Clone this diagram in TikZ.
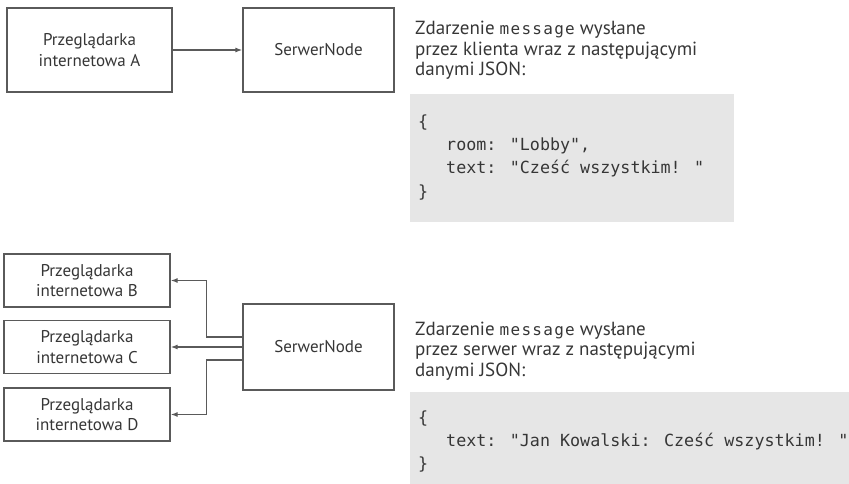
\documentclass[tikz,border=0pt]{standalone}
\usepackage{fontspec}
\setmainfont{PT Sans}
\newfontfamily\codefont{DejaVu Sans Mono}
\newfontfamily\msgfont[LetterSpace=8]{DejaVu Sans Mono}
\usetikzlibrary{arrows.meta}
\definecolor{linegray}{HTML}{5A5A5A}
\definecolor{txtgray}{HTML}{363636}
\definecolor{codebg}{HTML}{E6E6E6}
\tikzset{
  box/.style={draw=linegray, line width=1.3pt, fill=white, inner sep=0pt, align=center,
    font=\fontsize{17}{20.5}\selectfont, text=txtgray},
  conn/.style={draw=linegray, line width=1.2pt, -{Latex[length=7pt,width=5pt]}},
  desc/.style={anchor=base west, inner sep=0pt, font=\fontsize{19}{21}\selectfont, text=txtgray},
  code/.style={anchor=base west, inner sep=0pt, font=\codefont\fontsize{16.7}{23}\selectfont, text=txtgray},
  codebox/.style={fill=codebg, draw=none}
}
\newcommand{\msgword}{{\msgfont\fontsize{16}{20}\selectfont message}}
\begin{document}
\begin{tikzpicture}[x=1pt,y=-1pt]
\useasboundingbox (0,0) rectangle (849,484);
% top row
\node[box, minimum width=165pt, minimum height=84pt] (A) at (89.5,50) {Przeglądarka\\internetowa A};
\node[box, minimum width=151pt, minimum height=84pt] (S1) at (318.5,50) {SerwerNode};
\draw[conn] (A.east) -- (S1.west);
\node[desc] (t1a) at (415,35) {Zdarzenie \msgword{} wysłane};
\node[desc] (t1b) at (415,55.5) {przez klienta wraz z następującymi};
\node[desc] (t1c) at (415,76) {danymi JSON:};
\fill[codebox] (410,94) rectangle (734,222);
\node[code] (c1a) at (418,128) {\{};
\node[code] (c1b) at (446,151) {room: "Lobby",};
\node[code] (c1c) at (446,174) {text: "Cześć wszystkim! "};
\node[code] (c1d) at (418,197) {\}};
% bottom row
\node[box, minimum width=166pt, minimum height=53pt] (B) at (87,280.5) {Przeglądarka\\internetowa B};
\node[box, minimum width=166pt, minimum height=53pt] (C) at (87,347) {Przeglądarka\\internetowa C};
\node[box, minimum width=166pt, minimum height=53pt] (D) at (87,414.5) {Przeglądarka\\internetowa D};
\node[box, minimum width=151pt, minimum height=86pt] (S2) at (318.5,347) {SerwerNode};
\draw[conn] ([yshift=10pt]S2.west) -- ++(-36,0) |- (B.east);
\draw[conn] (S2.west) -- (C.east);
\draw[conn] ([yshift=-13pt]S2.west) -- ++(-36,0) |- (D.east);
\node[desc] (t2a) at (415,335) {Zdarzenie \msgword{} wysłane};
\node[desc] (t2b) at (415,355.5) {przez serwer wraz z następującymi};
\node[desc] (t2c) at (415,376) {danymi JSON:};
\fill[codebox] (410,392) rectangle (849,484);
\node[code] (c2a) at (418,423) {\{};
\node[code] (c2b) at (446,446) {text: "Jan Kowalski: Cześć wszystkim! "};
\node[code] (c2c) at (418,469) {\}};
\end{tikzpicture}
\end{document}
